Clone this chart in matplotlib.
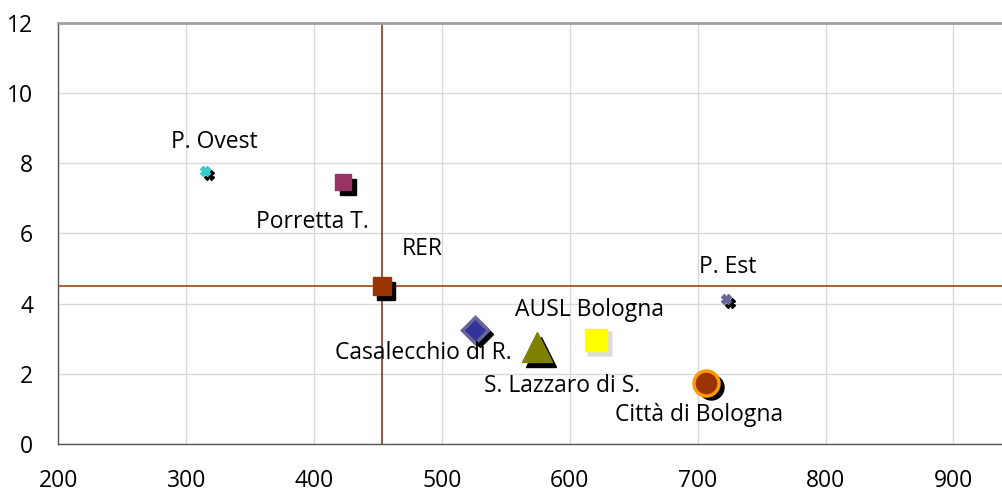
import matplotlib
matplotlib.use("Agg")
import matplotlib.pyplot as plt
from matplotlib.transforms import ScaledTranslation

plt.rcParams['font.family'] = ['Open Sans', 'DejaVu Sans']

names = ["P. Ovest", "Porretta T.", "RER", "Casalecchio di R.",
         "S. Lazzaro di S.", "AUSL Bologna", "P. Est", "Città di Bologna"]
x_vals = [314.7, 422.7, 453.0, 526.0, 574.0, 620.7, 722.0, 706.6]
y_vals = [7.78, 7.46, 4.50, 3.25, 2.75, 2.96, 4.13, 1.74]
markers = ["X", "s", "s", "D", "^", "s", "X", "o"]
faces = ["#33cccc", "#993366", "#993300", "#333399", "#808000", "#ffff00", "#666699", "#993300"]
edges = ["#33cccc", "#993366", "#993300", "#666699", "#808000", "#ffff00", "#666699", "#ff9900"]
sizes = [7, 12, 13, 13, 22, 16, 7, 18]
shadow = [True, True, True, True, True, False, True, True]
# label centers (data coords)
label_x = [321.8, 398.4, 484.8, 485.6, 594.0, 615.4, 723.4, 701.0]
label_y = [8.59, 6.31, 5.54, 2.58, 1.64, 3.83, 5.03, 0.84]

mean_x = 453.0
mean_y = 4.5
x_ticks = [200, 300, 400, 500, 600, 700, 800, 900]
y_ticks = [0, 2, 4, 6, 8, 10, 12]

fig = plt.figure(figsize=(10.02, 4.93), dpi=100)
ax = fig.add_axes([0.0582, 0.0994, 0.9418, 0.8546])
ax.set_xlim(200, 938)
ax.set_ylim(0, 12)
ax.set_xticks(x_ticks)
ax.set_yticks(y_ticks)
ax.tick_params(length=0, labelsize=16.5)
ax.tick_params(axis='y', pad=18)
ax.tick_params(axis='x', pad=18)
ax.grid(True, color="#d9d9d9", linewidth=1.0)
ax.set_axisbelow(True)
for s in ["left", "bottom"]:
    ax.spines[s].set_color("#555555")
    ax.spines[s].set_linewidth(1.0)
ax.spines["top"].set_color("#a0a0a0")
ax.spines["top"].set_linewidth(2.0)
ax.spines["right"].set_visible(False)

ax.axhline(mean_y, color="#993300", linewidth=1.1, zorder=2)
ax.axvline(mean_x, color="#7a2a10", linewidth=1.1, zorder=2)

off = ax.transData + ScaledTranslation(4.5/100, -4.5/100, fig.dpi_scale_trans)
soft = ax.transData + ScaledTranslation(3/100, -3/100, fig.dpi_scale_trans)
for i in range(len(names)):
    if shadow[i]:
        ax.plot(x_vals[i], y_vals[i], marker=markers[i], color="black",
                markersize=sizes[i], markeredgecolor="black", transform=off,
                zorder=3, linestyle="none")
    else:
        ax.plot(x_vals[i], y_vals[i], marker=markers[i], color="#bbbbbb",
                markersize=sizes[i] + 2, markeredgecolor="none", alpha=0.5,
                transform=soft, zorder=3, linestyle="none")
    mew = 2.5 if markers[i] in ("o", "D") else 1.0
    ax.plot(x_vals[i], y_vals[i], marker=markers[i], markerfacecolor=faces[i],
            markeredgecolor=edges[i], markersize=sizes[i], markeredgewidth=mew,
            zorder=4, linestyle="none")
    ax.text(label_x[i], label_y[i], names[i], ha="center", va="center",
            fontsize=16.5, zorder=5)

fig.savefig("out.png", dpi=100)
